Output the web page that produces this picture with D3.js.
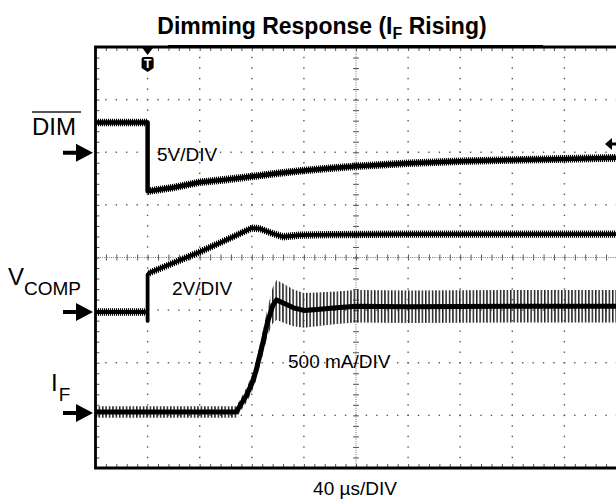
<!DOCTYPE html>
<html>
<head>
<meta charset="utf-8">
<script src="https://cdn.jsdelivr.net/npm/d3@7"></script>
<style>
  body { margin: 0; background: #fff; }
  text { font-family: "Liberation Sans", Arial, Helvetica, sans-serif; fill: #000; }
</style>
</head>
<body>
<div id="chart"></div>
<script>
// Time base: 40 us/DIV, trigger at t = 0
const timeDivs = [-40, 0, 40, 80, 120, 160, 200, 240, 280, 320, 360];
const levelDivs = [4, 3, 2, 1, 0, -1, -2, -3, -4];

// DIM trace, volts (5 V/DIV)
const dimT = [-40, 0, 0, 20, 40, 60, 80, 100, 120, 140, 160, 200, 240, 280, 320, 360];
const dimV = [2.87, 2.87, -3.66, -3.3, -2.8, -2.55, -2.26, -1.95, -1.69, -1.47, -1.28, -1.0, -0.81, -0.68, -0.58, -0.48];

// VCOMP trace, volts (2 V/DIV)
const vcompT = [-40, 0, 0, 0, 1, 20, 40, 60, 80, 86, 95, 104, 117, 140, 200, 280, 360];
const vcompV = [0, 0, -0.34, 1.41, 1.48, 1.87, 2.28, 2.73, 3.19, 3.17, 3.0, 2.86, 2.92, 2.94, 2.96, 2.96, 2.96];

// IF trace, mA (500 mA/DIV), with ripple half amplitude
const ifT = [-40, 68, 71, 76, 80, 83, 88, 92, 96, 99, 105, 112, 120, 130, 145, 160, 200, 280, 360];
const ifI = [10, 10, 70, 170, 280, 390, 640, 860, 1020, 1075, 1040, 1000, 975, 985, 1000, 1015, 1010, 1015, 1015];
const ifRipple = [55, 55, 60, 70, 80, 90, 110, 130, 170, 190, 185, 175, 165, 160, 155, 155, 155, 155, 155];

// channel settings: units per division, ground marker (divisions from centre), trace noise
const channels = {
  dim:   { perDiv: 5,   ground: 1.99,   noise: 0.36 },
  vcomp: { perDiv: 2,   ground: -1.036, noise: 0.14 },
  iF:    { perDiv: 500, ground: -2.956 }
};

const width = 616, height = 500;
const pLeft = 95.5, pRight = 616.5, pTop = 47, pBottom = 468;

const svg = d3.select("#chart").append("svg")
  .attr("width", width)
  .attr("height", height);

const x = d3.scaleLinear().domain([-40, 360]).range([pLeft, pRight]);
const yDiv = d3.scaleLinear().domain([4, -4]).range([pTop, pBottom]);
const yCh = (ch, v) => yDiv(ch.ground + v / ch.perDiv);

// hatch patterns to fake scope noise / ripple
const defs = svg.append("defs");
defs.append("pattern").attr("id", "noise")
  .attr("patternUnits", "userSpaceOnUse").attr("width", 2).attr("height", 10)
  .append("rect").attr("width", 1.1).attr("height", 10).attr("fill", "#000");
defs.append("pattern").attr("id", "ripple")
  .attr("patternUnits", "userSpaceOnUse").attr("width", 3.4).attr("height", 10)
  .append("rect").attr("width", 1.5).attr("height", 10).attr("fill", "#222");
defs.append("clipPath").attr("id", "plot")
  .append("rect").attr("x", pLeft).attr("y", pTop).attr("width", pRight - pLeft).attr("height", pBottom - pTop);

// Grid dots
const minorX = d3.range(-40, 360.01, 8);
const minorY = d3.range(4, -4.01, -0.2);
const grid = svg.append("g");
timeDivs.filter(t => t !== -40 && t !== 160 && t !== 360).forEach(t => {
  grid.selectAll(null).data(minorY).enter().append("rect")
    .attr("x", x(t) - 0.7).attr("y", d => yDiv(d) - 0.7)
    .attr("width", 1.4).attr("height", 1.4).attr("fill", "#555");
});
levelDivs.filter(l => Math.abs(l) !== 4 && l !== 0).forEach(l => {
  grid.selectAll(null).data(minorX).enter().append("rect")
    .attr("x", d => x(d) - 0.7).attr("y", yDiv(l) - 0.7)
    .attr("width", 1.4).attr("height", 1.4).attr("fill", "#555");
});

// Centre cross: dense dotted with ticks
grid.append("line").attr("x1", x(160)).attr("x2", x(160)).attr("y1", pTop).attr("y2", pBottom)
  .attr("stroke", "#777").attr("stroke-dasharray", "1,1.2");
grid.append("line").attr("x1", pLeft).attr("x2", pRight).attr("y1", yDiv(0)).attr("y2", yDiv(0))
  .attr("stroke", "#777").attr("stroke-dasharray", "1,1.2");

function tickAxis(axis, tx, ty) {
  const a = svg.append("g").attr("transform", `translate(${tx},${ty})`).call(axis);
  a.select(".domain").remove();
  a.selectAll("line").attr("stroke", "#555").attr("stroke-width", 1);
  a.selectAll("text").remove();
}
tickAxis(d3.axisTop(x).tickValues(minorX).tickSize(3).tickFormat(""), 0, yDiv(0));
tickAxis(d3.axisBottom(x).tickValues(minorX).tickSize(3).tickFormat(""), 0, yDiv(0));
tickAxis(d3.axisLeft(yDiv).tickValues(minorY).tickSize(3).tickFormat(""), x(160), 0);
tickAxis(d3.axisRight(yDiv).tickValues(minorY).tickSize(3).tickFormat(""), x(160), 0);
// border ticks
tickAxis(d3.axisBottom(x).tickValues(minorX).tickSize(4).tickFormat(""), 0, pTop);
tickAxis(d3.axisTop(x).tickValues(minorX).tickSize(4).tickFormat(""), 0, pBottom);
tickAxis(d3.axisRight(yDiv).tickValues(minorY).tickSize(4).tickFormat(""), pLeft, 0);

// Traces
const traces = svg.append("g").attr("clip-path", "url(#plot)");

function drawTrace(ch, T, V, N, pattern, sw) {
  const pts = T.map((t, i) => ({ t, v: V[i], n: N ? N[i] : ch.noise }));
  const band = d3.area()
    .x(d => x(d.t))
    .y0(d => yCh(ch, d.v - d.n))
    .y1(d => yCh(ch, d.v + d.n));
  traces.append("path").attr("d", band(pts)).attr("fill", `url(#${pattern})`);
  const line = d3.line().x(d => x(d.t)).y(d => yCh(ch, d.v));
  traces.append("path").attr("d", line(pts))
    .attr("fill", "none").attr("stroke", "#000").attr("stroke-width", sw)
    .attr("stroke-linejoin", "round");
}
drawTrace(channels.dim, dimT, dimV, null, "noise", 4.5);
drawTrace(channels.vcomp, vcompT, vcompV, null, "noise", 3.8);
drawTrace(channels.iF, ifT, ifI, ifRipple, "ripple", 5);

// Border
svg.append("path")
  .attr("d", `M${pRight + 2},${pTop}H${pLeft}V${pBottom}H${pRight + 2}`)
  .attr("fill", "none").attr("stroke", "#000").attr("stroke-width", 2.8);
svg.append("line").attr("x1", 168).attr("x2", 543).attr("y1", pTop - 1).attr("y2", pTop - 1)
  .attr("stroke", "#000").attr("stroke-width", 2);

// Trigger marker
const tx = x(0);
svg.append("path").attr("d", `M${tx - 6},${pTop}L${tx + 6},${pTop}L${tx},${pTop + 8}Z`).attr("fill", "#000");
svg.append("path")
  .attr("d", `M${tx - 6},${pTop + 12}Q${tx - 6},${pTop + 10} ${tx - 4},${pTop + 10}H${tx + 4}Q${tx + 6},${pTop + 10} ${tx + 6},${pTop + 12}V${pTop + 21}L${tx},${pTop + 25}L${tx - 6},${pTop + 21}Z`)
  .attr("fill", "#000");
svg.append("text").attr("x", tx).attr("y", pTop + 21).attr("text-anchor", "middle")
  .attr("font-size", 12).attr("font-weight", "bold").style("fill", "#fff").text("T");

// Ground arrows
function groundArrow(ch) {
  const y = yDiv(ch.ground);
  svg.append("path")
    .attr("d", `M63,${y - 2}H76V${y - 9}L93,${y}L76,${y + 9}V${y + 2}H63Z`)
    .attr("fill", "#000");
}
groundArrow(channels.dim);
groundArrow(channels.vcomp);
groundArrow(channels.iF);

// right-side level arrow
svg.append("path").attr("d", "M605,144L612,138V142.5H617V145.5H612V150Z").attr("fill", "#000");

// Channel labels
svg.append("text").attr("x", 32).attr("y", 135).attr("font-size", 24).text("DIM");
svg.append("line").attr("x1", 32).attr("x2", 81).attr("y1", 112).attr("y2", 112)
  .attr("stroke", "#555").attr("stroke-width", 2);

const vc = svg.append("text").attr("x", 8).attr("y", 285).attr("font-size", 24);
vc.append("tspan").text("V");
vc.append("tspan").attr("font-size", 19).attr("dy", 10).text("COMP");

const il = svg.append("text").attr("x", 51).attr("y", 391).attr("font-size", 24);
il.append("tspan").text("I");
il.append("tspan").attr("font-size", 19).attr("dy", 10).attr("dx", 1).text("F");

// Scale labels
svg.append("text").attr("x", 157).attr("y", 161).attr("font-size", 19).text("5V/DIV");
svg.append("text").attr("x", 172).attr("y", 295).attr("font-size", 19).text("2V/DIV");
svg.append("text").attr("x", 288).attr("y", 368).attr("font-size", 19).text("500 mA/DIV");
svg.append("text").attr("x", 355).attr("y", 495).attr("font-size", 19).attr("text-anchor", "middle").text("40 µs/DIV");

// Title
const title = svg.append("text").attr("x", 322).attr("y", 34).attr("text-anchor", "middle")
  .attr("font-size", 23).attr("font-weight", "bold");
title.append("tspan").text("Dimming Response (I");
title.append("tspan").attr("font-size", 16).attr("dy", 5).text("F");
title.append("tspan").attr("dy", -5).text(" Rising)");
</script>
</body>
</html>
